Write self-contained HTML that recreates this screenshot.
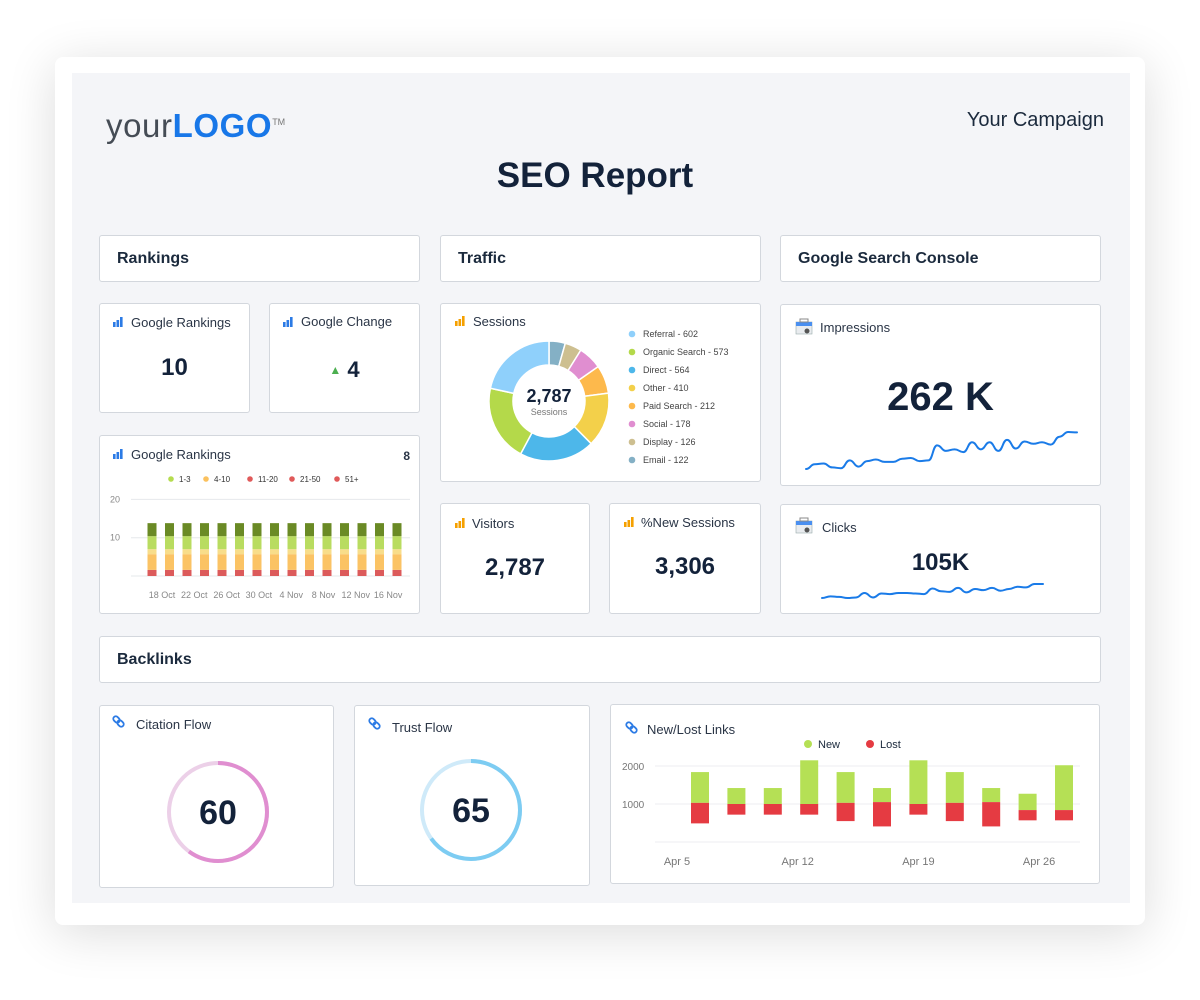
<!DOCTYPE html>
<html><head><meta charset="utf-8">
<style>
*{box-sizing:border-box;margin:0;padding:0}
body{width:1200px;height:1000px;background:#fff;font-family:"Liberation Sans",sans-serif;color:#1b2a3d;position:relative;overflow:hidden}
.frame{position:absolute;left:55px;top:57px;width:1090px;height:868px;background:#fff;border-radius:8px;box-shadow:0 8px 50px rgba(0,0,0,0.14)}
.inner{position:absolute;left:72px;top:73px;width:1058px;height:830px;background:#f4f5f8}
.card{position:absolute;background:#fff;border:1px solid #d3d7dd;border-radius:3px}
.hdr{font-size:16px;font-weight:bold;color:#1b2a3d;padding-left:17px;display:flex;align-items:center}
.t{position:absolute;font-size:13px;color:#2a3546;white-space:nowrap}
.big{position:absolute;font-weight:bold;color:#13223a;text-align:center;width:100%}
svg.ov{position:absolute;left:0;top:0}
</style></head><body>
<div class="frame"></div>
<div class="inner"></div>

<div style="position:absolute;left:106px;top:106px;font-size:33px;letter-spacing:0.6px;line-height:40px"><span style="color:#454c55">your</span><span style="color:#1877e8;font-weight:bold">LOGO</span><span style="font-size:9px;color:#777;vertical-align:top;position:relative;top:-4px;letter-spacing:0">TM</span></div>
<div style="position:absolute;right:96px;top:109px;font-size:20px;color:#1b2a3d">Your Campaign</div>
<div style="position:absolute;left:0;width:1190px;text-align:center;top:156px;font-size:35px;font-weight:bold;color:#13223a">SEO Report</div>

<div class="card hdr" style="left:99px;top:235px;width:321px;height:47px">Rankings</div>
<div class="card hdr" style="left:440px;top:235px;width:321px;height:47px">Traffic</div>
<div class="card hdr" style="left:780px;top:235px;width:321px;height:47px">Google Search Console</div>
<div class="card hdr" style="left:99px;top:636px;width:1002px;height:47px">Backlinks</div>

<div class="card" style="left:99px;top:303px;width:151px;height:110px">
 <div class="t" style="left:31px;top:11px">Google Rankings</div>
 <div class="big" style="top:50px;font-size:24px">10</div></div>
<div class="card" style="left:269px;top:303px;width:151px;height:110px">
 <div class="t" style="left:31px;top:10px">Google Change</div>
 <div class="big" style="top:53px;font-size:22px"><span style="color:#4caf50;font-size:12px;position:relative;top:-3px">▲</span> 4</div></div>
<div class="card" style="left:99px;top:435px;width:321px;height:179px">
 <div class="t" style="left:31px;top:11px">Google Rankings</div>
 <div class="t" style="right:9px;top:13px;font-weight:bold;font-size:12px">8</div></div>
<div class="card" style="left:440px;top:303px;width:321px;height:179px">
 <div class="t" style="left:32px;top:10px">Sessions</div></div>
<div class="card" style="left:440px;top:503px;width:150px;height:111px">
 <div class="t" style="left:31px;top:12px">Visitors</div>
 <div class="big" style="top:50px;font-size:24px">2,787</div></div>
<div class="card" style="left:609px;top:503px;width:152px;height:111px">
 <div class="t" style="left:31px;top:11px">%New Sessions</div>
 <div class="big" style="top:49px;font-size:24px">3,306</div></div>
<div class="card" style="left:780px;top:304px;width:321px;height:182px">
 <div class="t" style="left:39px;top:15px">Impressions</div>
 <div class="big" style="top:70px;font-size:40px">262 K</div></div>
<div class="card" style="left:780px;top:504px;width:321px;height:110px">
 <div class="t" style="left:41px;top:15px">Clicks</div>
 <div class="big" style="top:44px;font-size:24px">105K</div></div>
<div class="card" style="left:99px;top:705px;width:235px;height:183px">
 <div class="t" style="left:36px;top:11px">Citation Flow</div></div>
<div class="card" style="left:354px;top:705px;width:236px;height:181px">
 <div class="t" style="left:37px;top:14px">Trust Flow</div></div>
<div class="card" style="left:610px;top:704px;width:490px;height:180px">
 <div class="t" style="left:36px;top:17px">New/Lost Links</div></div>

<svg class="ov" width="1200" height="1000" font-family="Liberation Sans, sans-serif">
 <g id="icons"></g>
 <g id="rank"></g><g id="donut"></g><g id="spark"></g><g id="gauges"></g><g id="links"></g>
</svg>

<script>
// ---------- data ----------
const rankDates = ['18 Oct','22 Oct','26 Oct','30 Oct','4 Nov','8 Nov','12 Nov','16 Nov'];
const rankBarCount = 15;
const rankRed = [1.6,1.6,1.6,1.6,1.6,1.6,1.6,1.6,1.6,1.6,1.6,1.6,1.6,1.6,1.6];
const rankOrange = [4.1,4.1,4.1,4.1,4.1,4.1,4.1,4.1,4.1,4.1,4.1,4.1,4.1,4.1,4.1];
const rankYellow = [1.3,1.3,1.3,1.3,1.3,1.3,1.3,1.3,1.3,1.3,1.3,1.3,1.3,1.3,1.3];
const rankLightGreen = [3.4,3.4,3.4,3.4,3.4,3.4,3.4,3.4,3.4,3.4,3.4,3.4,3.4,3.4,3.4];
const rankDarkGreen = [3.4,3.4,3.4,3.4,3.4,3.4,3.4,3.4,3.4,3.4,3.4,3.4,3.4,3.4,3.4];
const rankTicks = [10,20];
const rankLegend = ['1-3','4-10','11-20','21-50','51+'];

const sessionLabels = ['Referral','Organic Search','Direct','Other','Paid Search','Social','Display','Email'];
const sessionValues = [602,573,564,410,212,178,126,122];

const impressionsSeries = [2,14,16,6,4,24,8,22,26,20,20,28,30,22,24,62,48,52,45,70,52,70,48,76,54,72,66,70,64,84,96,95];
const clicksSeries = [5,8,7,5,6,14,6,13,12,14,14,13,12,22,17,16,23,15,21,19,23,18,21,25,24,30,30];

const citationFlow = 60;
const trustFlow = 65;

const linkDates = ['Apr 5','Apr 12','Apr 19','Apr 26'];
const linkLow = [490,720,720,720,550,410,720,550,410,570,570];
const linkMid = [1030,1000,1000,1000,1030,1050,1000,1030,1050,840,840];
const linkHigh = [1840,1420,1420,2150,1840,1420,2150,1840,1420,1270,2020];
const linkTicks = [1000,2000];

const NS='http://www.w3.org/2000/svg';
function mk(tag,attrs,parent){const e=document.createElementNS(NS,tag);for(const k in attrs)e.setAttribute(k,attrs[k]);parent.appendChild(e);return e;}
function txt(s,attrs,parent){const e=mk('text',attrs,parent);e.textContent=s;return e;}

// ---------- icons ----------
const ic=document.getElementById('icons');
function barIcon(x,y,c,name){const g=mk('g',{},ic);
 [[0,5],[3.5,3],[7,0]].forEach(([dx,dy])=>mk('rect',{x:x+dx,y:y+dy,width:2.6,height:10-dy,fill:c},g));}
barIcon(113,317,'#2c7be5','rankings-icon');barIcon(283,317,'#2c7be5','change-icon');barIcon(113,449,'#2c7be5','rankings-chart-icon');
barIcon(455,316,'#f5a000','sessions-icon');barIcon(455,518,'#f5a000','visitors-icon');barIcon(624,517,'#f5a000','new-sessions-icon');
function consoleIcon(x,y,name){const g=mk('g',{},ic);
 mk('rect',{x:x,y:y+3,width:16,height:12,fill:'#e9ecef',stroke:'#9aa','stroke-width':0.6},g);mk('rect',{x:x,y:y+3,width:16,height:4,fill:'#4a8ff0'},g);
 mk('rect',{x:x+4,y:y,width:8,height:3,fill:'none',stroke:'#888'},g);mk('circle',{cx:x+11,cy:y+12,r:2.5,fill:'#555'},g);}
consoleIcon(796,319,'impressions-icon');consoleIcon(796,518,'clicks-icon');
function linkIcon(x,y,name){const g=mk('g',{},ic);
 mk('rect',{x:x,y:y,width:7,height:5,rx:2.5,fill:'none',stroke:'#2c7be5','stroke-width':1.8,transform:`rotate(45 ${x+3.5} ${y+2.5})`},g);
 mk('rect',{x:x+4,y:y+4,width:7,height:5,rx:2.5,fill:'none',stroke:'#2c7be5','stroke-width':1.8,transform:`rotate(45 ${x+7.5} ${y+6.5})`},g);}
linkIcon(113,717,'citation-icon');linkIcon(369,719,'trust-icon');linkIcon(626,723,'links-icon');

// ---------- rankings stacked bars ----------
(function(){
 const g=document.getElementById('rank');
 const y0=576, per=3.83, x0=152, step=17.5, bw=9;
 const ys=v=>y0-v*per;
 rankTicks.concat([0]).forEach(t=>{const l=mk('line',{x1:131,x2:410,y1:ys(t),y2:ys(t),stroke:'#e6e8eb'},g);
  if(t){const e=txt(String(t),{x:110,y:ys(t)+3,'font-size':9,fill:'#888'},g);}});
 const lc=['#b5dc4f','#fbc15e','#e05a5a','#e05a5a','#e05a5a'];
 const lx=[171,206,250,292,337];
 rankLegend.forEach((s,i)=>{const c=mk('circle',{cx:lx[i],cy:479,r:2.8,fill:lc[i]},g);
  const e=txt(s,{x:lx[i]+8,y:482,'font-size':8,fill:'#333'},g);});
 const series=[rankRed,rankOrange,rankYellow,rankLightGreen,rankDarkGreen];
 const cols=['#dc5b5b','#fbc364','#f8dd8a','#b9dc60','#6a8a25'];
 for(let i=0;i<rankBarCount;i++){let acc=0;const cx=x0+i*step;
  series.forEach((s,k)=>{const r=mk('rect',{x:cx-bw/2,y:ys(acc+s[i]),width:bw,height:s[i]*per,fill:cols[k]},g);acc+=s[i];});}
 rankDates.forEach((d,i)=>{const e=txt(d,{x:162+i*32.3,y:598,'font-size':9,fill:'#888','text-anchor':'middle'},g);});
})();

// ---------- donut ----------
(function(){
 const g=document.getElementById('donut');
 const cx=549,cy=401,R=60,r=36;
 const cols=['#8fd0fb','#b4d94a','#4db7ea','#f3d04a','#fdb94c','#e08ed0','#cdbf90','#84b0c5'];
 const total=sessionValues.reduce((a,b)=>a+b,0);
 let a=0;
 for(let j=sessionValues.length-1;j>=0;j--){
  const sweep=sessionValues[j]/total*2*Math.PI;const a1=a,a2=a+sweep;
  const p=(ang,rad)=>[cx+rad*Math.sin(ang),cy-rad*Math.cos(ang)];
  const [x1,y1]=p(a1,R),[x2,y2]=p(a2,R),[x3,y3]=p(a2,r),[x4,y4]=p(a1,r);const lg=sweep>Math.PI?1:0;
  const s=mk('path',{d:`M${x1},${y1}A${R},${R} 0 ${lg} 1 ${x2},${y2}L${x3},${y3}A${r},${r} 0 ${lg} 0 ${x4},${y4}Z`,fill:cols[j],stroke:'#fff','stroke-width':1.5},g);
  a=a2;}
 const c=txt(total.toLocaleString('en-US'),{x:cx,y:cy+1,'font-size':18,'font-weight':'bold',fill:'#13223a','text-anchor':'middle'},g);
 const c2=txt('Sessions',{x:cx,y:cy+14,'font-size':9,fill:'#777','text-anchor':'middle'},g);
 sessionLabels.forEach((s,i)=>{const y=334+i*18;const d=mk('circle',{cx:632,cy:y,r:3.3,fill:cols[i]},g);
  const e=txt(s+' - '+sessionValues[i],{x:643,y:y+3,'font-size':9,fill:'#444'},g);});
})();

// ---------- sparklines ----------
(function(){
 const g=document.getElementById('spark');
 function spark(vals,x0,x1,yb,h,name){const max=Math.max(...vals),min=Math.min(...vals);
  const pts=vals.map((v,i)=>[x0+(x1-x0)*i/(vals.length-1),yb-(v-min)/(max-min)*h]);
  let d=`M${pts[0][0]},${pts[0][1]}`;
  for(let i=1;i<pts.length;i++){const [px,py]=pts[i-1],[x,y]=pts[i];const mx=(px+x)/2;d+=`C${mx},${py} ${mx},${y} ${x},${y}`;}
  const p=mk('path',{d:d,fill:'none',stroke:'#1a7be8','stroke-width':2,'stroke-linecap':'round'},g);}
 spark(impressionsSeries,806,1077,469,37,'impressions-sparkline');
 spark(clicksSeries,822,1043,598,14,'clicks-sparkline');
})();

// ---------- gauges ----------
(function(){
 const g=document.getElementById('gauges');
 function gauge(cx,cy,val,c,bg,name){const R=49;
  const b=mk('circle',{cx:cx,cy:cy,r:R,fill:'none',stroke:bg,'stroke-width':4},g);
  const C=2*Math.PI*R;const a=mk('circle',{cx:cx,cy:cy,r:R,fill:'none',stroke:c,'stroke-width':4,'stroke-dasharray':`${C*val/100} ${C}`,transform:`rotate(-90 ${cx} ${cy})`},g);
  
  const t=txt(String(val),{x:cx,y:cy+12,'font-size':34,'font-weight':'bold',fill:'#13223a','text-anchor':'middle'},g);}
 gauge(218,812,citationFlow,'#e08ed0','#ecd0e8','citation-flow');
 gauge(471,810,trustFlow,'#7dccf2','#cfeaf9','trust-flow');
})();

// ---------- new/lost links ----------
(function(){
 const g=document.getElementById('links');
 const y0=842,per=0.038,ys=v=>y0-v*per;
 [0].concat(linkTicks).forEach(t=>{const l=mk('line',{x1:655,x2:1080,y1:ys(t),y2:ys(t),stroke:'#eceef0'},g);
  if(t){const e=txt(String(t),{x:622,y:ys(t)+4,'font-size':10,fill:'#777'},g);}});
 const lg=[[808,'#b5e055','New'],[870,'#e53b42','Lost']];
 lg.forEach(([x,c,s])=>{const d=mk('circle',{cx:x,cy:744,r:4,fill:c},g);
  const e=txt(s,{x:x+10,y:748,'font-size':11,fill:'#1b2a3d'},g);});
 const x0=700,step=36.4,bw=18;
 linkHigh.forEach((h,i)=>{const cx=x0+i*step;
  const n=mk('rect',{x:cx-bw/2,y:ys(h),width:bw,height:(h-linkMid[i])*per,fill:'#b5e055'},g);
  const l=mk('rect',{x:cx-bw/2,y:ys(linkMid[i]),width:bw,height:(linkMid[i]-linkLow[i])*per,fill:'#e53b42'},g);});
 linkDates.forEach((d,i)=>{const e=txt(d,{x:677+i*120.7,y:865,'font-size':11,fill:'#777','text-anchor':'middle'},g);});
})();
</script>
</body></html>
